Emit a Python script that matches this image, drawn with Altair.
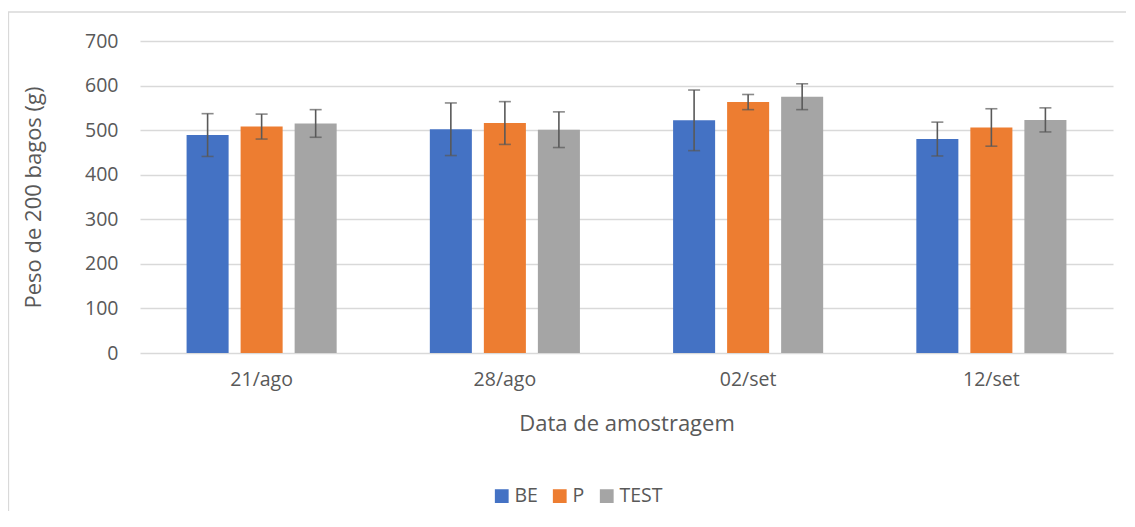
import altair as alt
import pandas as pd

dates = ["21/ago", "28/ago", "02/set", "12/set"]
series = ["BE", "P", "TEST"]
colors = ["#4472C4", "#ED7D31", "#A5A5A5"]
be = [489, 502, 522, 480]
p = [508, 516, 563, 506]
test = [515, 501, 575, 523]
be_err = [48, 59, 68, 38]
p_err = [28, 48, 17, 42]
test_err = [31, 40, 29, 27]
y_ticks = [0, 100, 200, 300, 400, 500, 600, 700]

rows = []
for s, vals, errs in [("BE", be, be_err), ("P", p, p_err), ("TEST", test, test_err)]:
    for d, v, e in zip(dates, vals, errs):
        rows.append({"date": d, "series": s, "value": v, "lo": v - e, "hi": v + e})
df = pd.DataFrame(rows)

FONT = "Open Sans"
W, H = 973, 312

xenc = alt.X("date:N", sort=dates,
             scale=alt.Scale(paddingInner=0.383, paddingOuter=0.1915),
             axis=alt.Axis(title="Data de amostragem", labelAngle=0, ticks=False, domain=False,
                           labelFont=FONT, labelFontSize=19.5, labelColor="#595959", labelPadding=17,
                           titleFont=FONT, titleFontSize=22, titleFontWeight="normal", titleColor="#595959",
                           titleX=W / 2, titleY=70, titleBaseline="middle", titleAlign="center"))
xoff = alt.XOffset("series:N", sort=series, scale=alt.Scale(paddingInner=0.222, paddingOuter=0))

base = alt.Chart(df)

bars = base.mark_bar().encode(
    x=xenc,
    xOffset=xoff,
    y=alt.Y("value:Q", scale=alt.Scale(domain=[0, 700]),
            axis=alt.Axis(values=y_ticks, title="Peso de 200 bagos (g)", ticks=False, domain=False,
                          grid=True, gridColor="#d9d9d9", gridWidth=1.3,
                          labelFont=FONT, labelFontSize=19.5, labelColor="#595959", labelPadding=22,
                          titleFont=FONT, titleFontSize=22, titleFontWeight="normal", titleColor="#595959",
                          titleX=-107, titleY=H / 2, titleAngle=-90, titleAlign="center",
                          titleBaseline="middle")),
    color=alt.Color("series:N", sort=series, scale=alt.Scale(domain=series, range=colors),
                    legend=alt.Legend(title=None, orient="none", legendX=352, legendY=445,
                                      direction="horizontal", symbolType="square", symbolSize=190,
                                      symbolStrokeWidth=0, labelFont=FONT, labelFontSize=19.5,
                                      labelColor="#595959", columnPadding=12, labelOffset=3)),
)

rules = base.mark_rule(color="#595959", strokeWidth=1.6).encode(
    x=alt.X("date:N", sort=dates), xOffset=xoff, y="lo:Q", y2="hi:Q")
caps_lo = base.mark_tick(color="#595959", thickness=1.6, size=12).encode(
    x=alt.X("date:N", sort=dates), xOffset=xoff, y="lo:Q")
caps_hi = base.mark_tick(color="#595959", thickness=1.6, size=12).encode(
    x=alt.X("date:N", sort=dates), xOffset=xoff, y="hi:Q")

border = alt.Chart(pd.DataFrame({"a": [0]})).mark_rect(
    fill=None, stroke="#d9d9d9", strokeWidth=1.3).encode(
    x=alt.value(-131.5), x2=alt.value(1000), y=alt.value(-29), y2=alt.value(520))

chart = alt.layer(border, bars, rules, caps_lo, caps_hi).properties(
    width=W, height=H,
    autosize=alt.AutoSizeParams(type="none"),
    padding={"left": 132, "top": 33, "right": 13, "bottom": 158},
    background="white",
).configure_view(stroke=None)

chart.save("out.html", embed_options={"renderer": "svg", "actions": False})
